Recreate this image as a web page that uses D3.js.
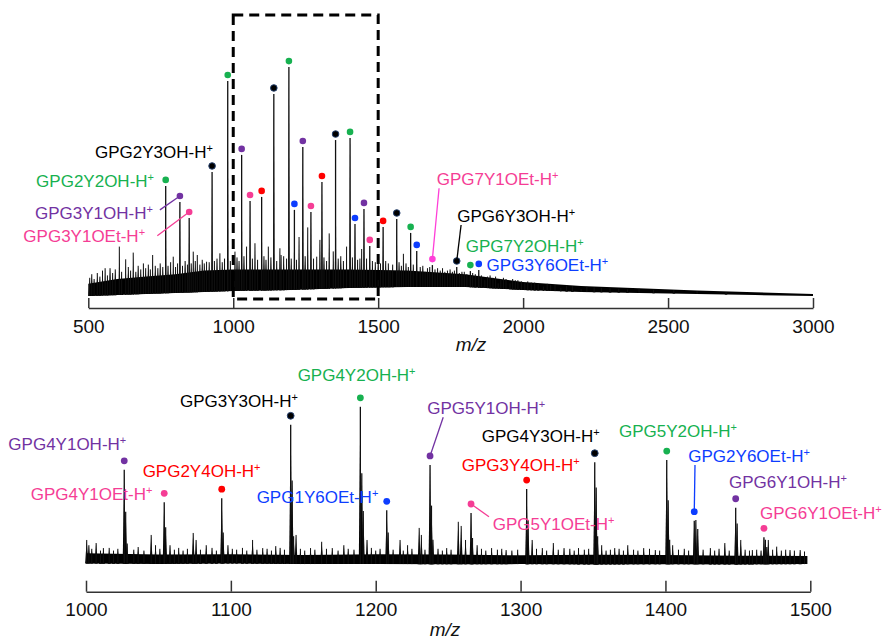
<!DOCTYPE html>
<html>
<head>
<meta charset="utf-8">
<script src="https://cdn.jsdelivr.net/npm/d3@7"></script>
<style>
  body { margin: 0; background: #fff; }
  svg { display: block; font-family: "Liberation Sans", Arial, sans-serif; }
  .tick text { font-size: 19px; fill: #111; }
  .axisTitle { font-size: 19px; font-style: italic; fill: #111; }
  .ion { font-size: 17px; }
</style>
</head>
<body>
<div id="chart"></div>
<script>
// Overview spectrum (m/z 500-3000), intensity in arbitrary units 0-100

var topTicks = [500, 1000, 1500, 2000, 2500, 3000];
var botTicks = [1000, 1100, 1200, 1300, 1400, 1500];

// noise band of the overview: m/z, lower edge, upper edge
var topBandMz = [500, 600, 700, 800, 900, 1000, 1200, 1400, 1600, 1800, 2000, 2200, 2400, 2600, 2800, 3000];
var topBandLo = [0.4, 0.8, 1.3, 1.7, 2.1, 2.5, 2.9, 3.8, 4.2, 4.2, 2.9, 2.1, 1.7, 1.3, 0.8, 0.4];
var topBandHi = [5.5, 7.5, 8.5, 9.5, 11, 11.5, 11.5, 11.5, 11, 9.5, 6.2, 4.6, 3.6, 2.7, 2.0, 1.2];

// assigned peaks of the overview
var topPeakMz = [767, 816, 848, 927, 981, 1029, 1058, 1098, 1140, 1192, 1211, 1240, 1268, 1306, 1353, 1403, 1420, 1451, 1471, 1517, 1564, 1612, 1633, 1687, 1771, 1818, 1847];
var topPeakI  = [46.3, 39.6, 32.9, 52.1, 90, 59.2, 40, 41.7, 84.6, 95.8, 36.3, 62.5, 35.4, 47.9, 65.4, 66.3, 30.4, 36.7, 21.3, 29.2, 32.5, 26.7, 19.2, 13.3, 12.5, 10.8, 11.3];
var topPeakSeries = ["green", "purple", "pink", "black", "green", "purple", "pink", "red", "black", "green", "blue", "purple", "pink", "red", "black", "green", "blue", "purple", "pink", "red", "black", "green", "blue", "magenta", "black", "green", "blue"];

// unassigned peaks of the overview
var topMinorMz = [558, 607, 629, 655, 690, 722, 793, 862, 876, 908, 954, 1006, 1046, 1075, 1121, 1161, 1165, 1184, 1227, 1257, 1288, 1299, 1331, 1345, 1391, 1437, 1443, 1541, 1587, 1662, 1730, 1797, 1868, 1914, 1955, 2006, 2070, 2130, 2200];
var topMinorI  = [12, 21, 15.7, 18.5, 14, 17.5, 16.8, 18.9, 17.5, 14.7, 18.2, 18.9, 21, 22.4, 21, 20.3, 17.5, 16, 25, 29, 16.8, 23.8, 26.5, 19, 21, 16, 20, 11, 18, 10.5, 10.5, 10.5, 7, 5.7, 5.7, 5.7, 4.3, 3.8, 3.3];

// small noise spikes on top of the band (overview)
var topNoiseMz = [505, 512, 520, 531, 540, 549, 566, 575, 584, 593, 615, 638, 646, 664, 672, 681, 698, 707, 714, 731, 740, 748, 757, 775, 784, 801, 808, 825, 834, 842, 855, 869, 885, 893, 900, 917, 935, 944, 962, 970, 990, 1013, 1020, 1037, 1066, 1084, 1106, 1113, 1130, 1150, 1174, 1200, 1218, 1248, 1277, 1313, 1322, 1362, 1371, 1380, 1411, 1429, 1460, 1480, 1490, 1500, 1508, 1526, 1535, 1550, 1572, 1580, 1596, 1604, 1621, 1645, 1654, 1670, 1678, 1696, 1705, 1714, 1722, 1739, 1748, 1756, 1763, 1780, 1789, 1806, 1826, 1835, 1856, 1877, 1886, 1896, 1905, 1923, 1932, 1941, 1964, 1973, 1982, 1994, 2016, 2028, 2040, 2052, 2083, 2095, 2110, 2150, 2170, 2220, 2245, 2270, 2300, 2330, 2360, 2400, 2450, 2520, 2600, 2700];
var topNoiseI  = [8, 9.5, 7.5, 10, 8.5, 11, 9, 12, 10, 11.5, 10.5, 12.5, 11, 10.5, 13, 11.5, 12, 13.5, 11.5, 13, 12, 14, 12.5, 13, 14.5, 12.5, 14, 13, 15, 13.5, 14, 15, 13.5, 15.5, 14, 14.5, 15, 16, 14.5, 16, 15, 16.5, 15, 17, 16, 15.5, 17, 15.5, 16.5, 15, 17, 16, 15.5, 17, 16, 16.5, 15, 16, 17, 15, 16.5, 15.5, 16, 15, 14.5, 15.5, 14, 15, 14, 13.5, 14.5, 13, 14, 12.5, 13.5, 12.5, 13, 12, 12.5, 11.5, 12, 11, 12, 11, 11.5, 10.5, 11, 10, 10.5, 9.5, 10, 9.5, 9, 8.5, 9, 8, 8.5, 7.5, 8, 7.5, 7.5, 7, 7, 6.5, 6.5, 6, 6, 5.5, 5.5, 5, 5, 4.8, 4.5, 4.2, 4, 3.8, 3.6, 3.4, 3.2, 3.4, 3, 2.8, 2.4, 2];

// zoomed spectrum (m/z 1000-1500)
var botBandMz = [1000, 1050, 1100, 1150, 1200, 1250, 1300, 1350, 1400, 1450, 1498];
var botBandLo = [0.8, 0.6, 0.8, 0.5, 0.6, 0.4, 0.5, 0.3, 0.4, 0.3, 0.5];
var botBandHi = [6.5, 5.8, 6.0, 5.5, 6.0, 5.8, 5.4, 5.7, 5.5, 5.2, 5.0];

var botPeakMz = [1026.4, 1054, 1093.7, 1141.3, 1189.4, 1207.6, 1237.5, 1265.8, 1304.2, 1351.2, 1400.9, 1419.9, 1448.5, 1468];
var botPeakI  = [52.9, 34.8, 37.1, 77.9, 87.9, 30.4, 55.6, 28.9, 42.2, 57.1, 58.3, 24.6, 31.8, 15.4];
var botPeakSeries = ["purple", "pink", "red", "black", "green", "blue", "purple", "pink", "red", "black", "green", "blue", "purple", "pink"];
// isotope shoulders next to each assigned peak
var botIsoMz = [1027.4, 1028.4, 1055, 1094.7, 1142.3, 1143.3, 1190.4, 1191.4, 1208.6, 1238.5, 1239.5, 1266.8, 1305.2, 1352.2, 1353.2, 1401.9, 1402.9, 1421, 1422.3, 1449.5, 1469, 1470];
var botIsoI  = [29.6, 12, 21, 18, 47, 16, 51, 30, 18, 33, 14, 15, 25, 43, 16, 36, 14, 25, 20, 23, 14, 10];

var botMinorMz = [1000.5, 1002, 1007, 1012, 1045, 1048, 1058, 1074, 1076, 1083, 1098, 1115, 1122, 1131, 1145, 1155, 1162.7, 1170, 1178, 1194, 1216.8, 1222, 1230, 1231.5, 1249, 1257, 1259, 1262, 1270, 1280, 1290, 1308, 1315, 1322.6, 1330, 1340, 1356, 1365, 1374, 1385, 1393, 1405, 1431, 1441, 1452, 1460, 1471, 1476.8, 1486, 1493];
var botMinorI  = [13.9, 11, 12.2, 9.4, 16.7, 11, 11, 17.8, 13.9, 11, 11, 13.9, 9.4, 10.5, 16.7, 9.4, 12.9, 9.4, 11, 13.9, 13.9, 11, 20.6, 16.7, 9.4, 24, 21.7, 13.9, 11, 9.4, 8.3, 13.9, 9.4, 12.2, 9.4, 9.4, 11, 9.4, 11, 9.4, 8.3, 11, 9.4, 12.2, 13.9, 8.3, 13.9, 10.2, 8.3, 8.3];

// small noise spikes on top of the band (zoom)
var botNoiseMz = [1004, 1010, 1016, 1019, 1022, 1033, 1036, 1040, 1051, 1061, 1064, 1067, 1070, 1079, 1087, 1090, 1101, 1104, 1108, 1111, 1118, 1125, 1128, 1134, 1137, 1148, 1151, 1158, 1166, 1174, 1181, 1185, 1197, 1200, 1203, 1212, 1219, 1225, 1234, 1243, 1246, 1252, 1273, 1276, 1284, 1287, 1294, 1298, 1311, 1318, 1326, 1334, 1337, 1344, 1347, 1359, 1362, 1368, 1371, 1378, 1381, 1389, 1396, 1409, 1413, 1416, 1426, 1434, 1437, 1444, 1455, 1458, 1463, 1466, 1474, 1480, 1483, 1489, 1496];
var botNoiseI  = [9, 8, 9.5, 8, 9, 8.5, 10, 8, 9, 8.5, 9.5, 8, 9, 8.5, 9.5, 8, 9, 8.5, 9.5, 8, 8.5, 9, 8, 9.5, 8.5, 9, 8, 8.5, 9, 8, 9, 8.5, 9.5, 8, 9, 8.5, 8, 9, 8.5, 9, 8, 8.5, 9, 8, 8.5, 9, 8, 8.5, 9, 8, 8.5, 9, 8, 8.5, 9, 8, 8.5, 9, 8, 8.5, 8, 9, 8, 8.5, 9, 8, 8.5, 8, 9, 8, 8.5, 8, 8.5, 8, 8.5, 8, 8.5, 8, 7.5];

// ion labels: text, series, label anchor (m/z, intensity), optional leader start
var topLabels = [
    { text: "GPG2Y3OH-H", series: "black", mz: 523, i: 57.8 },
    { text: "GPG2Y2OH-H", series: "green", mz: 320, i: 46 },
    { text: "GPG3Y1OH-H", series: "purple", mz: 316, i: 32.5, lead: [747, 36.3], to: 1 },
    { text: "GPG3Y1OEt-H", series: "pink", mz: 276, i: 23, lead: [738, 25.5], to: 2 },
    { text: "GPG7Y1OEt-H", series: "pink", mz: 1702, i: 46.7, lead: [1710, 45.3], to: 23 },
    { text: "GPG6Y3OH-H", series: "black", mz: 1773, i: 31.4, lead: [1786, 30], to: 24 },
    { text: "GPG7Y2OH-H", series: "green", mz: 1802, i: 18.9 },
    { text: "GPG3Y6OEt-H", series: "blue", mz: 1874, i: 11 }
];
var botLabels = [
    { text: "GPG4Y1OH-H", series: "purple", mz: 946.4, i: 63.9 },
    { text: "GPG4Y1OEt-H", series: "pink", mz: 961.8, i: 36.1 },
    { text: "GPG2Y4OH-H", series: "red", mz: 1039.1, i: 49.1 },
    { text: "GPG3Y3OH-H", series: "black", mz: 1064.9, i: 87.9 },
    { text: "GPG4Y2OH-H", series: "green", mz: 1146.1, i: 102.4 },
    { text: "GPG1Y6OEt-H", series: "blue", mz: 1117.8, i: 34.6 },
    { text: "GPG5Y1OH-H", series: "purple", mz: 1235.6, i: 83.9, lead: [1246.6, 82.1], to: 6 },
    { text: "GPG4Y3OH-H", series: "black", mz: 1273.2, i: 68.5 },
    { text: "GPG3Y4OH-H", series: "red", mz: 1259.4, i: 52.4 },
    { text: "GPG5Y2OH-H", series: "green", mz: 1367.9, i: 71.3 },
    { text: "GPG2Y6OEt-H", series: "blue", mz: 1415.8, i: 57.4, lead: [1420.4, 55.6], to: 11 },
    { text: "GPG6Y1OH-H", series: "purple", mz: 1443.9, i: 42.6 },
    { text: "GPG6Y1OEt-H", series: "pink", mz: 1465.3, i: 25.4 },
    { text: "GPG5Y1OEt-H", series: "pink", mz: 1280.8, i: 19.4, lead: [1278.2, 26.8], to: 7 }
];

var colors = {
    black: "#000000",
    green: "#17b150",
    purple: "#7232a2",
    pink: "#f53d95",
    magenta: "#ff3fd8",
    red: "#ff0000",
    blue: "#0d3dff"
};

var svgWidth = 887;
var svgHeight = 639;

var svg = d3.select("#chart")
    .append("svg")
    .attr("width", svgWidth)
    .attr("height", svgHeight);

// scales
var xTop = d3.scaleLinear().domain([500, 3000]).range([88.3, 813]);
var yTop = d3.scaleLinear().domain([0, 100]).range([297, 57]);
var xBot = d3.scaleLinear().domain([1000, 1500]).range([86, 810.3]);
var yBot = d3.scaleLinear().domain([0, 100]).range([565, 385]);

function drawPanel(opt) {
    var g = svg.append("g");
    var x = opt.x, y = opt.y;

    // noise band
    var band = opt.bandMz.map((m, k) => ({ mz: m, lo: opt.bandLo[k], hi: opt.bandHi[k] }));
    g.append("path")
        .datum(band)
        .attr("fill", "#000")
        .attr("d", d3.area()
            .x(d => x(d.mz))
            .y0(d => y(d.lo))
            .y1(d => y(d.hi)));

    // sticks
    function sticks(mzs, ints, w, hw) {
        var pts = mzs.map((m, k) => [m, ints[k]]);
        var base = d => y(opt.baseAt(d[0]));
        g.selectAll(null)
            .data(pts)
            .enter()
            .append("path")
            .attr("fill", "#000")
            .attr("d", d => `M${x(d[0]) - hw},${base(d)}L${x(d[0])},${y(d[1])}L${x(d[0]) + hw},${base(d)}Z`);
        g.selectAll(null)
            .data(pts)
            .enter()
            .append("line")
            .attr("x1", d => x(d[0]))
            .attr("x2", d => x(d[0]))
            .attr("y1", d => base(d))
            .attr("y2", d => y(d[1]))
            .attr("stroke", "#111")
            .attr("stroke-width", w);
    }
    sticks(opt.noiseMz, opt.noiseI, 1, opt.noiseHw);
    sticks(opt.minorMz, opt.minorI, 1, opt.hw);
    if (opt.isoMz) sticks(opt.isoMz, opt.isoI, 1.2, opt.hw);
    sticks(opt.peakMz, opt.peakI, 1.3, opt.hw);

    // x axis, ticks pointing up
    var axis = g.append("g")
        .attr("transform", `translate(0,${opt.axisY})`)
        .call(d3.axisBottom(x).tickValues(opt.ticks).tickFormat(d3.format("d")).tickSize(-opt.tickLen).tickSizeOuter(0));
    axis.select(".domain").attr("stroke", "#333").attr("stroke-width", 1.5);
    axis.selectAll(".tick line").attr("stroke", "#333").attr("stroke-width", 1.5);
    axis.selectAll(".tick text").attr("y", opt.labelDy).attr("dy", 0);
    axis.attr("font-size", null).attr("font-family", null);

    g.append("text")
        .attr("class", "axisTitle")
        .attr("x", opt.titleX)
        .attr("y", opt.titleY)
        .attr("text-anchor", "middle")
        .text("m/z");

    // dots over assigned peaks
    g.selectAll(null)
        .data(opt.peakMz.map((m, k) => [m, opt.peakI[k], opt.series[k]]))
        .enter()
        .append("circle")
        .attr("cx", d => x(d[0]))
        .attr("cy", d => y(d[1]) - opt.dotGap)
        .attr("r", opt.r)
        .attr("fill", d => colors[d[2]])
        .attr("stroke", d => d[2] === "black" ? "#24406e" : "none")
        .attr("stroke-width", 1);

    // labels
    opt.labels.forEach(function (l) {
        if (l.lead) {
            var k = l.to;
            g.append("line")
                .attr("x1", x(l.lead[0]))
                .attr("y1", y(l.lead[1]))
                .attr("x2", x(opt.peakMz[k]))
                .attr("y2", y(opt.peakI[k]) - opt.dotGap)
                .attr("stroke", colors[opt.series[k]])
                .attr("stroke-width", 1.3);
        }
        var t = g.append("text")
            .attr("class", "ion")
            .attr("x", x(l.mz))
            .attr("y", y(l.i))
            .attr("fill", colors[l.series]);
        t.append("tspan").text(l.text);
        t.append("tspan").attr("dy", -6).attr("font-size", "11px").text("+");
    });
}

function interp(mzs, vals) {
    return function (m) {
        var k = d3.bisectRight(mzs, m);
        if (k <= 0) return vals[0];
        if (k >= mzs.length) return vals[vals.length - 1];
        var t = (m - mzs[k - 1]) / (mzs[k] - mzs[k - 1]);
        return vals[k - 1] + t * (vals[k] - vals[k - 1]);
    };
}

drawPanel({
    x: xTop, y: yTop,
    bandMz: topBandMz, bandLo: topBandLo, bandHi: topBandHi,
    baseAt: interp(topBandMz, topBandLo),
    peakMz: topPeakMz, peakI: topPeakI, series: topPeakSeries,
    minorMz: topMinorMz, minorI: topMinorI,
    noiseMz: topNoiseMz, noiseI: topNoiseI,
    hw: 0.8, noiseHw: 1.4,
    ticks: topTicks, axisY: 308, tickLen: 10, labelDy: 25,
    titleX: 471, titleY: 351,
    dotGap: 6, r: 3.3,
    labels: topLabels
});

drawPanel({
    x: xBot, y: yBot,
    bandMz: botBandMz, bandLo: botBandLo, bandHi: botBandHi,
    baseAt: interp(botBandMz, botBandLo),
    peakMz: botPeakMz, peakI: botPeakI, series: botPeakSeries,
    minorMz: botMinorMz, minorI: botMinorI,
    isoMz: botIsoMz, isoI: botIsoI,
    noiseMz: botNoiseMz, noiseI: botNoiseI,
    hw: 1.6, noiseHw: 1.5,
    ticks: botTicks, axisY: 591.7, tickLen: 11, labelDy: 24,
    titleX: 445, titleY: 636,
    dotGap: 9, r: 3.4,
    labels: botLabels
});

// dashed box marking the zoomed window
svg.append("rect")
    .attr("x", xTop(1000))
    .attr("y", 15)
    .attr("width", xTop(1500) - xTop(1000))
    .attr("height", 284)
    .attr("fill", "none")
    .attr("stroke", "#000")
    .attr("stroke-width", 3)
    .attr("stroke-dasharray", "10,6");
</script>
</body>
</html>
